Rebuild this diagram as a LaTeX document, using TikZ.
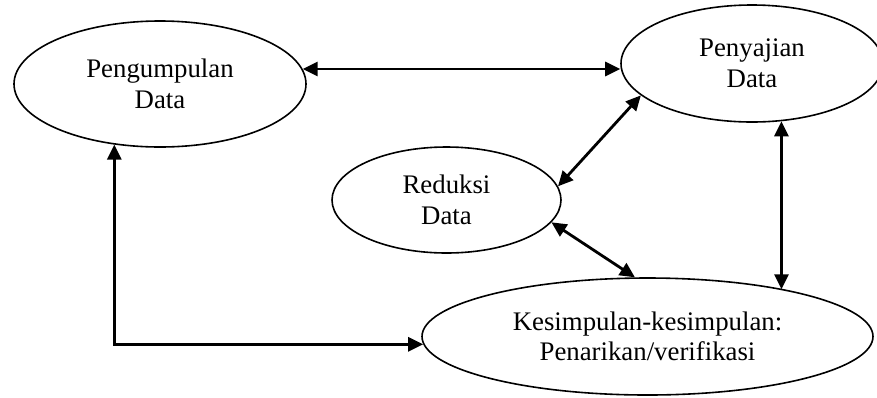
\documentclass[tikz,border=0pt]{standalone}
\usepackage{fontspec}
\setmainfont{Liberation Serif}
\usetikzlibrary{arrows.meta,shapes.geometric}

\tikzset{
  tahap/.style={ellipse, draw, line width=0.8pt, inner sep=0pt, align=center,
    font=\fontsize{13.4}{15.3}\selectfont},
  dua/.style={{Triangle[length=7.5pt,width=7pt]}-{Triangle[length=7.5pt,width=7pt]}, line width=1.4pt}
}

\begin{document}
\begin{tikzpicture}[x=0.5pt,y=-0.5pt]
        \useasboundingbox (0,0) rectangle (877,397);

        % The four stages
        \node[tahap, minimum width=146pt, minimum height=63pt] (Kumpul) at (160,84) {Pengumpulan\\Data};
        \node[tahap, minimum width=131pt, minimum height=58.5pt] (Saji) at (752,63.5) {Penyajian\\Data};
        \node[tahap, minimum width=114.5pt, minimum height=53pt] (Reduksi) at (446.5,200) {Reduksi\\Data};
        \node[tahap, minimum width=225.5pt, minimum height=58.5pt] (Simpul) at (647.5,336.5) {Kesimpulan-kesimpulan:\\Penarikan/verifikasi};

        % Two-way links between the stages
        \draw[dua] (Kumpul.6.5) -- (Kumpul.6.5 -| Saji.west);
        \draw[dua] (Reduksi.7) -- (Saji.196);
        \draw[dua] (Reduksi.-12) -- (Simpul.102);
        \draw[dua] (Saji.-63) -- (Saji.-63 |- Simpul.19.3);
        \draw[dua] (Kumpul.233) |- (Simpul.182);
    \end{tikzpicture}
\end{document}
